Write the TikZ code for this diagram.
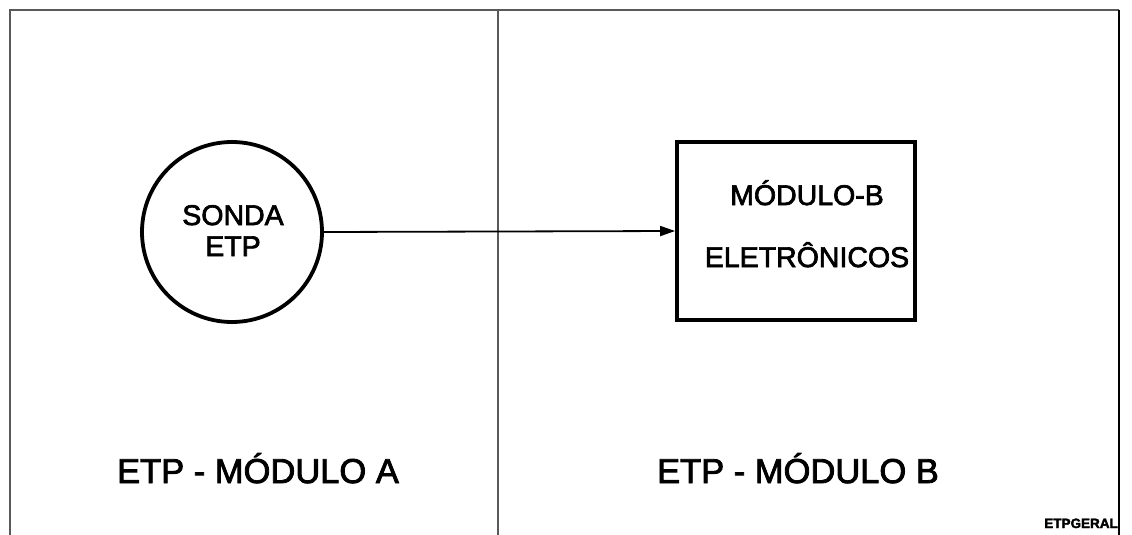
\documentclass[tikz,border=0pt]{standalone}
\usepackage{fontspec}
\setmainfont{Liberation Sans}
\newfontfamily\scanfont[FakeBold=2.4]{Liberation Sans}
\usetikzlibrary{arrows.meta}
\begin{document}
\begin{tikzpicture}[x=1pt,y=-1pt,
  frameline/.style={draw=black!65,line width=1.2pt},
  thick shape/.style={draw=black,line width=3.8pt},
  conn/.style={draw=black,line width=1.8pt,-{Triangle[length=15pt,width=10pt]}},
  lbl/.style={font=\scanfont\fontsize{28.5}{32}\selectfont,align=center,inner sep=0pt},
  biglbl/.style={font=\scanfont\fontsize{34.5}{38}\selectfont,inner sep=0pt,anchor=base}]
\useasboundingbox (0,0) rectangle (1132,535);
\coordinate (tl) at (10,10);
\coordinate (bl) at (10,535);
\coordinate (tr) at (1119,10);
\coordinate (br) at (1119,535);
\coordinate (tm) at (498,10);
\coordinate (bm) at (498,535);
\draw[frameline] (bl) -- (tl) -- (tr);
\draw[frameline] (tm) -- (bm);
\draw[draw=black,line width=2pt] (tr) -- (br);
\node[thick shape,circle,minimum size=180pt,inner sep=0pt] (sonda) at (232,232) {};
\node[lbl,anchor=base] (s1) at (233,225) {SONDA};
\node[lbl,anchor=base] (s2) at (233,256) {ETP};
\node[thick shape,rectangle,minimum width=238pt,minimum height=178pt,inner sep=0pt] (mod) at (796,231) {};
\node[lbl,anchor=base] (m1) at (807,205) {MÓDULO-B};
\node[lbl,anchor=base] (m2) at (807,267) {ELETRÔNICOS};
\draw[conn] (sonda.east) -- (mod.west);
\node[biglbl] (la) at (258,483) {ETP - MÓDULO A};
\node[biglbl] (lb) at (798,483) {ETP - MÓDULO B};
\node[font=\scanfont\bfseries\fontsize{13.5}{16}\selectfont,anchor=base east,inner sep=0pt] (code) at (1118,528) {ETPGERAL};
\end{tikzpicture}
\end{document}
